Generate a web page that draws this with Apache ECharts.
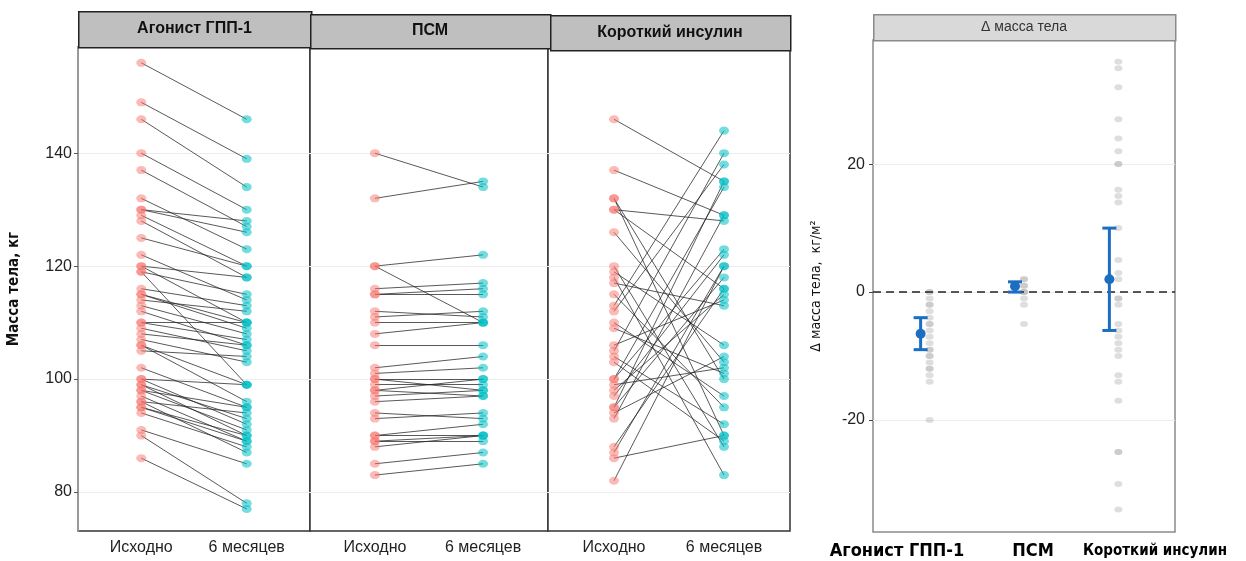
<!DOCTYPE html>
<html>
<head>
<meta charset="utf-8">
<script src="https://cdn.jsdelivr.net/npm/echarts@6/dist/echarts.min.js"></script>
<style>
  html, body { margin: 0; padding: 0; background: #fff; }
  #chart { width: 1246px; height: 561px; }
</style>
</head>
<body>
<div id="chart"></div>
<script>
// ---- данные ----
const panels = ["Агонист ГПП-1", "ПСМ", "Короткий инсулин"];
const timeLabels = ["Исходно", "6 месяцев"];

// масса тела, кг: исходно и через 6 месяцев (пары по пациентам)
const glpBase = [156, 149, 146, 140, 137, 132, 130, 130, 129, 128, 125, 122, 120, 120, 119, 119, 116, 115, 115, 114, 113, 112, 110, 110, 109, 108, 107, 106, 106, 105, 102, 100, 100, 99, 99, 98, 98, 97, 96, 96, 95, 95, 94, 91, 90, 86];
const glpM6 = [146, 139, 134, 130, 127, 123, 128, 126, 120, 118, 120, 114, 118, 110, 99, 115, 113, 110, 109, 112, 108, 106, 110, 107, 105, 106, 103, 99, 96, 104, 95, 99, 92, 93, 90, 95, 91, 89, 94, 87, 90, 89, 88, 85, 78, 77];

const psmBase = [140, 132, 120, 120, 116, 115, 115, 112, 111, 110, 108, 106, 102, 101, 100, 100, 99, 98, 98, 97, 96, 94, 93, 90, 90, 89, 89, 88, 85, 83];
const psmM6 = [134, 135, 122, 110, 117, 116, 115, 111, 112, 110, 110, 106, 104, 102, 100, 98, 99, 100, 97, 98, 97, 93, 94, 92, 90, 90, 89, 90, 87, 85];

const insBase = [146, 137, 132, 132, 130, 130, 126, 120, 119, 118, 117, 115, 113, 112, 110, 109, 106, 105, 104, 103, 100, 100, 99, 98, 97, 95, 95, 94, 93, 88, 87, 86, 82];
const insM6 = [135, 129, 100, 90, 128, 116, 103, 88, 106, 83, 113, 95, 144, 138, 97, 101, 114, 140, 92, 89, 134, 123, 102, 115, 122, 118, 135, 104, 129, 116, 120, 90, 120];

// Δ масса тела (правая панель)
const deltaGlp = [0, 0, -1, -2, -2, -3, -4, -5, -5, -6, -7, -8, -9, -9, -10, -10, -11, -12, -12, -13, -14, -20];
const deltaPsm = [2, 2, 1, 1, 0, 0, 0, -1, -2, -5];
const deltaIns = [36, 35, 32, 27, 24, 22, 20, 20, 16, 15, 14, 10, 5, 3, 2, -1, -1, -2, -5, -6, -7, -8, -9, -10, -13, -14, -17, -25, -25, -30, -34];
const deltaMean = [-6.5, 0.9, 2];
const deltaLow = [-9, 0, -6];
const deltaHigh = [-4, 1.6, 10];

const leftTicks = [80, 100, 120, 140];
const rightTicks = [-20, 0, 20];

// ---- оформление ----
const RED = "#F8766D";
const CYAN = "#00BFC4";
const BLUE = "#1b6ec2";
const FONT = "'Liberation Sans', Arial, sans-serif";
const NARROW = "'Liberation Sans Narrow', 'DejaVu Sans Condensed', 'Liberation Sans', sans-serif";

const pairs = [
  [glpBase, glpM6],
  [psmBase, psmM6],
  [insBase, insM6],
];
const deltas = [deltaGlp, deltaPsm, deltaIns];

const gridBoxes = [
  { left: 78, top: 47, width: 232, height: 484 },
  { left: 310, top: 47, width: 238, height: 484 },
  { left: 548, top: 47, width: 242, height: 484 },
];

var grid = [];
var xAxis = [];
var yAxis = [];
var series = [];

gridBoxes.forEach(function (b, i) {
  grid.push({
    left: b.left, top: b.top, width: b.width, height: b.height,
    show: true, borderColor: "#333", borderWidth: 1.5, backgroundColor: "#fff",
  });
  xAxis.push({
    type: "value", gridIndex: i, min: 0.4, max: 2.6,
    axisLine: { show: false },
    axisTick: { show: false },
    splitLine: { show: false },
    axisLabel: {
      fontFamily: FONT, fontSize: 16, color: "#222", margin: 9,
      customValues: [1, 2],
      formatter: function (v) { return v === 1 ? timeLabels[0] : timeLabels[1]; },
    },
  });
  yAxis.push({
    type: "value", gridIndex: i, min: 73.1, max: 158.8,
    name: i === 0 ? "Масса тела, кг" : "",
    nameLocation: "middle", nameGap: 56, nameRotate: 90,
    nameTextStyle: { fontFamily: NARROW, fontSize: 15, fontWeight: "bold", color: "#111" },
    axisLine: { show: i === 0, lineStyle: { color: "#999", width: 2 } },
    axisTick: { show: i === 0, length: 4, customValues: leftTicks, lineStyle: { color: "#555" } },
    splitLine: { show: true, lineStyle: { color: "#ececec", width: 1 } },
    axisLabel: {
      show: i === 0, fontFamily: FONT, fontSize: 16, color: "#222", margin: 6,
      customValues: leftTicks,
    },
  });

  var base = pairs[i][0];
  var m6 = pairs[i][1];
  series.push({
    type: "lines", coordinateSystem: "cartesian2d",
    xAxisIndex: i, yAxisIndex: i, z: 2, silent: true,
    lineStyle: { color: "#222", width: 1, opacity: 0.75 },
    data: base.map(function (v, k) { return { coords: [[1, v], [2, m6[k]]] }; }),
  });
  series.push({
    type: "scatter", xAxisIndex: i, yAxisIndex: i, z: 3,
    symbolSize: [10, 8],
    itemStyle: { color: RED, opacity: 0.5 },
    data: base.map(function (v) { return [1, v]; }),
  });
  series.push({
    type: "scatter", xAxisIndex: i, yAxisIndex: i, z: 3,
    symbolSize: [10, 8],
    itemStyle: { color: CYAN, opacity: 0.55 },
    data: m6.map(function (v) { return [2, v]; }),
  });
});

// правая панель
grid.push({
  left: 873, top: 40, width: 302, height: 492,
  show: true, borderColor: "#8a8a8a", borderWidth: 1.5, backgroundColor: "#fff",
});
xAxis.push({
  type: "value", gridIndex: 3, min: 0.4, max: 3.6,
  axisLine: { show: false }, axisTick: { show: false },
  axisLabel: { show: false }, splitLine: { show: false },
});
yAxis.push({
  type: "value", gridIndex: 3, min: -37.5, max: 39.4,
  name: "Δ масса тела,  кг/м²",
  nameLocation: "middle", nameGap: 50, nameRotate: 90,
  nameTextStyle: { fontFamily: NARROW, fontSize: 14, color: "#111" },
  axisLine: { show: false },
  axisTick: { show: true, length: 4, customValues: rightTicks, lineStyle: { color: "#444" } },
  splitLine: { show: true, lineStyle: { color: "#ececec", width: 1 } },
  axisLabel: {
    fontFamily: FONT, fontSize: 16, color: "#222", margin: 8,
    customValues: rightTicks,
  },
});

deltas.forEach(function (arr, i) {
  series.push({
    type: "scatter", xAxisIndex: 3, yAxisIndex: 3, z: 3,
    symbolSize: [8, 6],
    itemStyle: { color: "#b5b5b5", opacity: 0.45 },
    data: arr.map(function (v) { return [i + 1, v]; }),
    markLine: i === 0 ? {
      silent: true, symbol: "none", label: { show: false },
      lineStyle: { color: "#222", type: [8, 5], width: 1.5 },
      data: [{ yAxis: 0 }],
    } : undefined,
  });
});

series.push({
  type: "custom", xAxisIndex: 3, yAxisIndex: 3, z: 5,
  data: deltaMean.map(function (m, i) { return [i + 1, m, deltaLow[i], deltaHigh[i]]; }),
  renderItem: function (params, api) {
    var pm = api.coord([api.value(0), api.value(1)]);
    var pl = api.coord([api.value(0), api.value(2)]);
    var ph = api.coord([api.value(0), api.value(3)]);
    var x = pm[0] - 9;
    var style = { stroke: BLUE, lineWidth: 3 };
    return {
      type: "group",
      children: [
        { type: "line", shape: { x1: x, y1: pl[1], x2: x, y2: ph[1] }, style: style },
        { type: "line", shape: { x1: x - 7, y1: pl[1], x2: x + 7, y2: pl[1] }, style: style },
        { type: "line", shape: { x1: x - 7, y1: ph[1], x2: x + 7, y2: ph[1] }, style: style },
        { type: "circle", shape: { cx: x, cy: pm[1], r: 5 }, style: { fill: BLUE } },
      ],
    };
  },
});

// заголовки панелей
var stripBoxes = [
  { x: 78, y: 11, w: 233, h: 36, size: 16 },
  { x: 310, y: 14, w: 240, h: 34, size: 16 },
  { x: 550, y: 15, w: 240, h: 35, size: 16 },
];
var graphic = [];
stripBoxes.forEach(function (s, i) {
  graphic.push({
    type: "rect", left: s.x, top: s.y, z: 10,
    shape: { width: s.w, height: s.h },
    style: { fill: "#bfbfbf", stroke: "#222", lineWidth: 1.5 },
  });
  graphic.push({
    type: "text", x: s.x + s.w / 2, y: s.y + s.h / 2, z: 11,
    style: {
      text: panels[i], fontFamily: FONT, fontSize: s.size, fontWeight: "bold",
      fill: "#111", align: "center", verticalAlign: "middle",
    },
  });
});
graphic.push({
  type: "rect", left: 873, top: 14, z: 10,
  shape: { width: 302, height: 26 },
  style: { fill: "#d9d9d9", stroke: "#8a8a8a", lineWidth: 1.5 },
});
graphic.push({
  type: "text", x: 1024, y: 27, z: 11,
  style: {
    text: "Δ масса тела", fontFamily: FONT, fontSize: 14,
    fill: "#333", align: "center", verticalAlign: "middle",
  },
});
// подписи групп под правой панелью
var bottomLabels = [
  { x: 897, size: 18 },
  { x: 1033, size: 18 },
  { x: 1155, size: 15 },
];
bottomLabels.forEach(function (l, i) {
  graphic.push({
    type: "text", x: l.x, y: 551, z: 11,
    style: {
      text: panels[i], fontFamily: NARROW, fontSize: l.size, fontWeight: "bold",
      fill: "#000", align: "center", verticalAlign: "middle",
    },
  });
});

var chart = echarts.init(document.getElementById("chart"));
chart.setOption({
  animation: false,
  backgroundColor: "#fff",
  grid: grid,
  xAxis: xAxis,
  yAxis: yAxis,
  series: series,
  graphic: graphic,
});
</script>
</body>
</html>
